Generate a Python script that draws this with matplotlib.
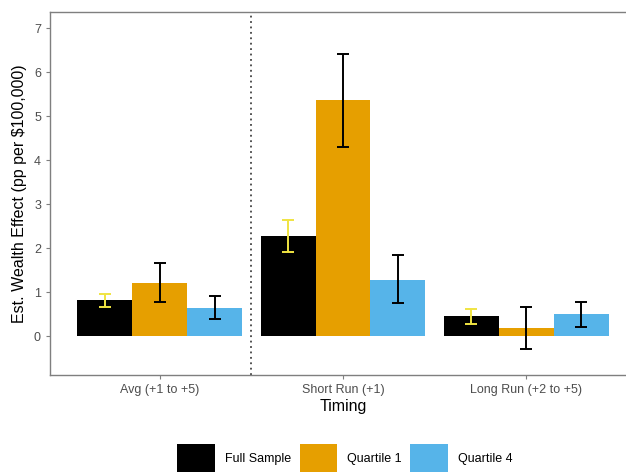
import numpy as np
import matplotlib.pyplot as plt
from matplotlib.patches import Patch

plt.rcParams["font.family"] = ["Liberation Sans", "DejaVu Sans"]

# Data
timings = ["Avg (+1 to +5)", "Short Run (+1)", "Long Run (+2 to +5)"]
groups = ["Full Sample", "Quartile 1", "Quartile 4"]
colors = ["#000000", "#E69F00", "#56B4E9"]
err_colors = ["#F0E442", "#000000", "#000000"]

full_est = [0.82, 2.27, 0.45]
full_lo = [0.66, 1.91, 0.29]
full_hi = [0.97, 2.64, 0.63]

q1_est = [1.22, 5.36, 0.18]
q1_lo = [0.79, 4.31, -0.28]
q1_hi = [1.66, 6.42, 0.67]

q4_est = [0.65, 1.28, 0.50]
q4_lo = [0.40, 0.75, 0.21]
q4_hi = [0.91, 1.84, 0.79]

series = [
    (full_est, full_lo, full_hi),
    (q1_est, q1_lo, q1_hi),
    (q4_est, q4_lo, q4_hi),
]

fig = plt.figure(figsize=(6.26, 4.76), dpi=100)
ax = fig.add_axes([50 / 626, 101 / 476, 586 / 626, 363 / 476])

x = np.arange(1, len(timings) + 1)
width = 0.3

for i, (est, lo, hi) in enumerate(series):
    xpos = x + (i - 1) * width
    est = np.array(est)
    yerr = np.vstack([est - np.array(lo), np.array(hi) - est])
    ax.bar(xpos, est, width=width, color=colors[i], zorder=2)
    ax.errorbar(xpos, est, yerr=yerr, fmt="none", ecolor=err_colors[i],
                elinewidth=1.4, capsize=4.2, capthick=1.4, zorder=3)

ax.axvline(1.5, color="#444444", linestyle=(0, (1, 2)), linewidth=1.3, zorder=1)

ax.set_xlim(0.4, 3.6)
ax.set_ylim(-0.88, 7.37)
ax.set_xticks(x)
ax.set_xticklabels(timings)
ax.set_yticks(range(0, 8))

ax.tick_params(axis="both", colors="#7F7F7F", labelcolor="#4D4D4D",
               labelsize=9, length=3)
for sp in ax.spines.values():
    sp.set_color("#7F7F7F")
    sp.set_linewidth(1.0)

ax.set_xlabel("Timing", fontsize=11.5, labelpad=2)
ax.set_ylabel("Est. Wealth Effect (pp per \\$100,000)", fontsize=11.5, labelpad=5)

handles = [Patch(facecolor=c, edgecolor="none") for c in colors]
fig.legend(handles, groups, loc="center", bbox_to_anchor=(0.551, 0.038),
           ncol=3, frameon=False, fontsize=9, handlelength=3.0,
           handleheight=3.0, handletextpad=0.8, columnspacing=0.7)

fig.savefig("out.png", dpi=100)
